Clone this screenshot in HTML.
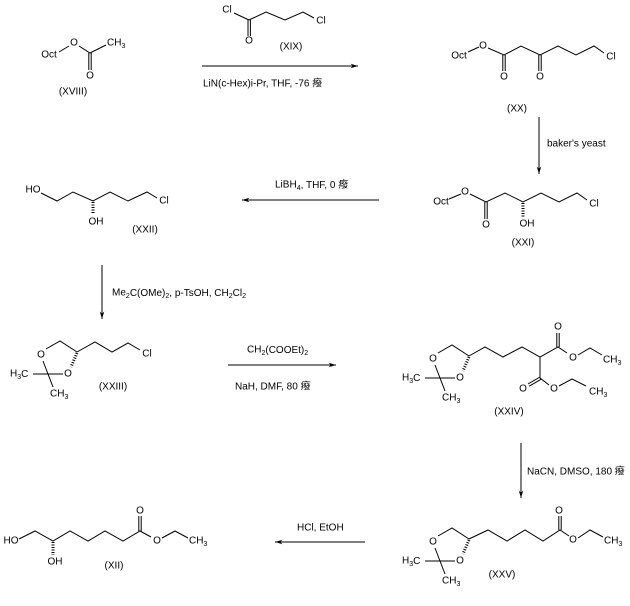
<!DOCTYPE html>
<html><head><meta charset="utf-8"><style>
html,body{margin:0;padding:0;background:#fff;}
svg{display:block;}
text{font-family:"Liberation Sans","Noto Sans CJK SC",sans-serif;font-size:10px;fill:#000;dominant-baseline:central;}
.m{text-anchor:middle;}
line,polyline{stroke:#000;stroke-width:1;fill:none;}
.h{stroke-width:3;stroke-dasharray:1 1.5;}
</style></head><body>
<svg width="630" height="606" viewBox="0 0 630 606" xmlns="http://www.w3.org/2000/svg">
<defs>
<marker id="a" viewBox="0 0 10 8" refX="10" refY="4" markerWidth="10" markerHeight="6" orient="auto" markerUnits="userSpaceOnUse">
<path d="M0,1 L10,4 L0,7 L3,4 Z" fill="#000"/>
</marker>
<g id="ring">
<polyline points="46,349 60,341 77,352"/>
<line class="h" x1="77" y1="353" x2="71" y2="367"/>
<line x1="33" y1="374" x2="63" y2="374"/>
<line x1="48" y1="374" x2="43" y2="361"/>
<line x1="48" y1="374" x2="53" y2="387"/>
<text class="m" x="41" y="355">O</text>
<text class="m" x="68" y="374">O</text>
<text x="10" y="374">H<tspan dy="3" font-size="7">3</tspan><tspan dy="-3">C</tspan></text>
<text x="50" y="394">CH<tspan dy="3" font-size="7">3</tspan></text>
</g>
</defs>

<!-- XVIII -->
<text class="m" x="49" y="55">Oct</text>
<line x1="59" y1="52" x2="69" y2="46"/>
<text class="m" x="74" y="43">O</text>
<polyline points="79,46 90,53 106,45"/>
<line x1="88.8" y1="53" x2="88.8" y2="70"/><line x1="91.2" y1="53" x2="91.2" y2="70"/>
<text class="m" x="90" y="76">O</text>
<text x="107" y="43">CH<tspan dy="3" font-size="7">3</tspan></text>
<text class="m" x="73" y="92">(XVIII)</text>

<!-- XIX -->
<text class="m" x="227" y="10">Cl</text>
<line x1="234" y1="13" x2="249" y2="20"/>
<line x1="248" y1="20" x2="248" y2="36"/><line x1="250.4" y1="20" x2="250.4" y2="36"/>
<text class="m" x="249" y="41">O</text>
<polyline points="249,20 266,12 285,20 303,12 314,18"/>
<text class="m" x="321" y="21">Cl</text>
<text class="m" x="291" y="47">(XIX)</text>

<line x1="202" y1="66" x2="358" y2="66" marker-end="url(#a)"/>
<text x="203" y="84">LiN(c-Hex)i-Pr, THF, -76 癈</text>

<!-- XX -->
<text class="m" x="459" y="56">Oct</text>
<line x1="468" y1="52" x2="479" y2="47"/>
<text class="m" x="483" y="46">O</text>
<polyline points="488,48 504,55 521,46 540,55 558,46 576,55 594,46 604,53"/>
<line x1="502.8" y1="55" x2="502.8" y2="71"/><line x1="505.2" y1="55" x2="505.2" y2="71"/>
<line x1="538.8" y1="55" x2="538.8" y2="71"/><line x1="541.2" y1="55" x2="541.2" y2="71"/>
<text class="m" x="504" y="77">O</text>
<text class="m" x="540" y="77">O</text>
<text class="m" x="611" y="57">Cl</text>
<text class="m" x="517" y="109">(XX)</text>

<line x1="539" y1="117" x2="539" y2="174" marker-end="url(#a)"/>
<text x="547" y="144">baker's yeast</text>

<!-- XXI -->
<text class="m" x="441" y="202">Oct</text>
<line x1="449" y1="199" x2="461" y2="194"/>
<text class="m" x="465" y="192">O</text>
<polyline points="470,194 486,202 505,193 523,202 541,193 559,202 577,193 587,200"/>
<line x1="484.8" y1="202" x2="484.8" y2="219"/><line x1="487.2" y1="202" x2="487.2" y2="219"/>
<text class="m" x="486" y="225">O</text>
<line class="h" x1="523" y1="203" x2="523" y2="217"/>
<text class="m" x="527" y="224">OH</text>
<text class="m" x="594" y="204">Cl</text>
<text class="m" x="523" y="243">(XXI)</text>

<line x1="379" y1="200" x2="242" y2="200" marker-end="url(#a)"/>
<text x="275" y="185">LiBH<tspan dy="3" font-size="7">4</tspan><tspan dy="-3">, THF, 0 癈</tspan></text>

<!-- XXII -->
<text class="m" x="33" y="190">HO</text>
<polyline points="41,193 57,201 73,192 93,201 110,192 128,201 147,192 157,198"/>
<text class="m" x="164" y="201">Cl</text>
<line class="h" x1="93" y1="202" x2="93" y2="214"/>
<text class="m" x="96" y="222">OH</text>
<text class="m" x="145" y="230">(XXII)</text>

<line x1="102" y1="265" x2="102" y2="319" marker-end="url(#a)"/>
<text x="112" y="293">Me<tspan dy="3" font-size="7">2</tspan><tspan dy="-3">C(OMe)</tspan><tspan dy="3" font-size="7">2</tspan><tspan dy="-3">, p-TsOH, CH</tspan><tspan dy="3" font-size="7">2</tspan><tspan dy="-3">Cl</tspan><tspan dy="3" font-size="7">2</tspan></text>

<!-- XXIII -->
<use href="#ring"/>
<polyline points="77,352 95,342 112,352 128,343 140,350"/>
<text class="m" x="147" y="354">Cl</text>
<text class="m" x="113" y="387">(XXIII)</text>

<line x1="228" y1="365" x2="336" y2="365" marker-end="url(#a)"/>
<text x="247" y="350">CH<tspan dy="3" font-size="7">2</tspan><tspan dy="-3">(COOEt)</tspan><tspan dy="3" font-size="7">2</tspan></text>
<text x="235" y="387">NaH, DMF, 80 癈</text>

<!-- XXIV -->
<use href="#ring" transform="translate(392,4)"/>
<polyline points="469,356 485,347 503,357 522,347 540,357 558,347 567,353"/>
<line x1="556.8" y1="347" x2="556.8" y2="333"/><line x1="559.2" y1="347" x2="559.2" y2="333"/>
<text class="m" x="558" y="327">O</text>
<text class="m" x="573" y="358">O</text>
<polyline points="578,355 590,348 602,355"/>
<text x="603" y="360">CH<tspan dy="3" font-size="7">3</tspan></text>
<polyline points="540,357 540,378 549,385"/>
<line x1="540" y1="377" x2="528" y2="384"/><line x1="541.2" y1="379.2" x2="529.2" y2="386.2"/>
<text class="m" x="523" y="389">O</text>
<text class="m" x="554" y="389">O</text>
<polyline points="559,386 572,379 586,386"/>
<text x="589" y="392">CH<tspan dy="3" font-size="7">3</tspan></text>
<text class="m" x="509" y="412">(XXIV)</text>

<line x1="521" y1="443" x2="521" y2="498" marker-end="url(#a)"/>
<text x="527" y="472">NaCN, DMSO, 180 癈</text>

<!-- XXV -->
<use href="#ring" transform="translate(392,187)"/>
<polyline points="469,539 488,530 507,541 525,530 543,541 560,530 569,536"/>
<line x1="558.8" y1="530" x2="558.8" y2="516"/><line x1="561.2" y1="530" x2="561.2" y2="516"/>
<text class="m" x="559" y="511">O</text>
<text class="m" x="573" y="540">O</text>
<polyline points="578,538 590,530 603,537"/>
<text x="604" y="541">CH<tspan dy="3" font-size="7">3</tspan></text>
<text class="m" x="502" y="575">(XXV)</text>

<line x1="365" y1="542" x2="275" y2="542" marker-end="url(#a)"/>
<text x="297" y="528">HCl, EtOH</text>

<!-- XII -->
<text class="m" x="11" y="541">HO</text>
<polyline points="19,539 35,531 53,541 70,531 88,541 105,531 123,541 140,531 151,537"/>
<line x1="138.8" y1="531" x2="138.8" y2="516"/><line x1="141.2" y1="531" x2="141.2" y2="516"/>
<text class="m" x="140" y="511">O</text>
<text class="m" x="157" y="541">O</text>
<polyline points="162,538 175,531 188,538"/>
<text x="189" y="541">CH<tspan dy="3" font-size="7">3</tspan></text>
<line class="h" x1="53" y1="542" x2="53" y2="555"/>
<text class="m" x="55" y="562">OH</text>
<text class="m" x="114" y="566">(XII)</text>
</svg>
</body></html>
